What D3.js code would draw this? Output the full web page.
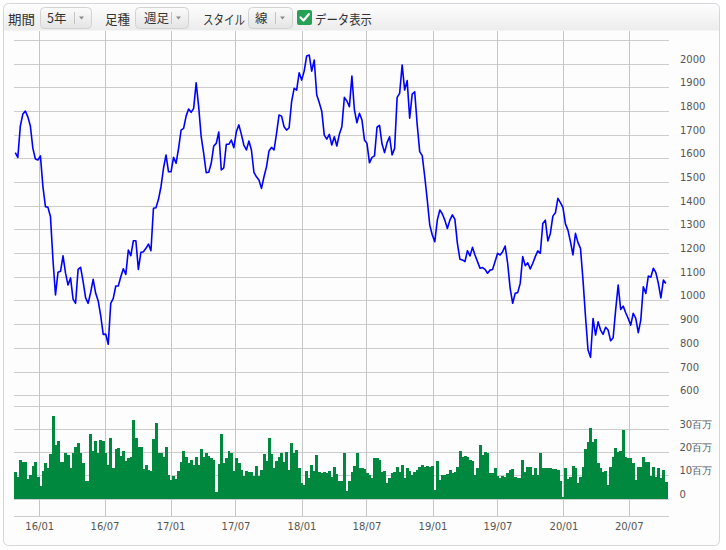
<!DOCTYPE html>
<html><head><meta charset="utf-8">
<script src="https://cdn.jsdelivr.net/npm/d3@7/dist/d3.min.js"></script>
<style>body{margin:0;background:#fff;} svg{display:block;}</style>
</head><body><svg id="chart" width="726" height="550"></svg>
<script>
// ---------- data ----------
const startDate = "2015-10-25"; // first weekly bar
const prices = [
1626,1606,1738,1789,1801,1777,1738,1644,1599,1595,
1612,1482,1398,1395,1356,1173,1025,1121,1125,1190,
1117,1067,1097,1008,990,1133,1142,1081,1013,990,
1036,1091,1032,1000,938,859,860,817,990,1011,
1063,1063,1102,1136,1112,1215,1191,1254,1254,1133,
1205,1208,1222,1240,1212,1391,1393,1429,1482,1560,
1616,1545,1545,1606,1581,1644,1721,1728,1780,1810,
1796,1813,1921,1820,1693,1623,1541,1543,1581,1654,
1665,1713,1553,1562,1661,1661,1679,1647,1714,1743,
1703,1658,1637,1675,
1637,1543,1524,1510,1475,1524,1566,1633,1648,1637,
1707,1785,1780,1735,1721,1731,1841,1897,1890,1963,
1932,1970,2034,2038,1970,2017,1869,1837,1801,1700,
1683,1703,1658,1693,1654,1703,1735,1859,1844,1820,
1949,1806,1752,1792,1764,1679,1665,1583,1606,1612,
1733,1741,1662,1626,1668,1693,1616,1644,1859,1876,
1996,1890,1930,1771,1873,1883,1743,1630,1613,1524,
1426,1320,1278,1250,1341,1384,1367,1341,1306,1341,
1363,1344,1243,1176,1173,1166,1212,1190,1226,1194,
1166,1138,1141,1133,1117,
1130,1133,1166,1201,1194,1208,1232,1159,1053,990,
1032,1035,1074,1187,1149,1161,1135,1159,1187,1211,
1201,1327,1341,1253,1285,1358,1372,1433,1415,1395,
1325,1299,1250,1194,1285,1246,1222,1088,933,793,
762,926,856,912,877,859,889,877,832,845,
962,1067,964,978,950,926,898,948,926,866,
919,1060,1032,1105,1100,1138,1119,1074,1013,1088,
1074
];
// weekly volume, millions of shares
const volumes = [
11.8,9.4,16.9,15.9,15.9,8.6,10.4,14.3,16.1,9.7,
5.7,12.1,15.7,13.6,19.3,35.7,23.3,25.0,16.1,16.1,
20,19,13.3,19.7,22.6,24,20,15.5,7.9,7.9,
27.9,20.7,25,19.7,25.5,25,19.7,14.7,26.2,
13.3,21.6,21.9,18.6,20.9,16.4,17.6,18,34,26.4,
22.6,22.6,12.9,14.7,12.6,12.1,25.9,32.6,19.7,19.7,
18.3,22.3,10.4,8.3,10.2,8.9,12.1,16.1,20.9,18,
15.5,16.9,14.9,18.3,14.9,21.6,18,20,18.6,17.9,
16.9,3.3,15.2,27.9,15.5,17.6,20.7,20,12.3,17.9,
15.5,12.6,10,12.1,11.5,11.8,10,14.3,10,12.6,
19.3,16.4,26.2,19.3,13.3,16.4,18.3,20,16.1,20.4,
12.6,24.3,19.7,21.1,13.6,6.9,6.2,12.1,9.3,14.9,
12.1,19,11.5,11.3,11.5,11.2,12.3,9.7,13.9,10.9,
7.7,7.7,20,3.7,7.9,11.8,14.2,20,
13.3,13.6,12.9,11.2,10.4,9.3,17.6,17.6,17,11.8,
12.1,6.8,9,11.2,11.8,14,11.8,14.7,9,13.3,
12.1,10.4,11.8,12.6,14,14.7,14,14.3,14,14.3,
3.9,16.4,8.3,10.4,10.4,11,12.6,11.4,11.8,14,
20.9,18,18.6,18.3,16.9,16.4,10.4,13.3,23.3,19,
20.4,19.7,11.2,11.4,13.3,10,9,10,9.4,11.4,
12.6,12.9,9.7,9.3,9.3,16.9,11.8,14,14,10.4,
13.3,10.4,19.7,13.3,13.3,13.6,13.3,13,12.9,12.6,
8,0.8,13.6,8.6,9.7,14.3,13.3,6.8,9.4,14,
21.4,24.7,30.5,24.7,25.7,15.5,13.3,11.8,12.1,6.1,
14,18,21.9,20.4,20.9,29.7,18,17.6,17.6,15.5,
8.3,14,14,18,16.1,16.1,10,14,9.7,13.3,
9,12.6,7.6
];
const priceTicks = [600,700,800,900,1000,1100,1200,1300,1400,1500,1600,1700,1800,1900,2000];
const priceGridTop = 2100;
const volumeTicks = [0,10,20,30];
const volumeTickLabels = ["0","10百万","20百万","30百万"];
const volumeGridTop = 40;
const dateTicks = ["2016-01-01","2016-07-01","2017-01-01","2017-07-01","2018-01-01","2018-07-01","2019-01-01","2019-07-01","2020-01-01","2020-07-01"];
const dateTickLabels = ["16/01","16/07","17/01","17/07","18/01","18/07","19/01","19/07","20/01","20/07"];
const toolbarLabels = ["期間","足種","スタイル"];
const toolbarButtons = ["5年","週足","線"];
const checkboxLabel = "データ表示";

// ---------- drawing ----------
const parse = d3.utcParse("%Y-%m-%d");
const t0 = parse(startDate);
const dates = prices.map((_, i) => d3.utcDay.offset(t0, 7 * i));
const svg = d3.select("#chart");
const defs = svg.append("defs");

const plotL = 14, plotR = 669.3;
const x = d3.scaleUtc().domain([parse("2016-01-01"), parse("2020-07-01")]).range([39.7, 629.3]);
const yP = d3.scaleLinear().domain([600, 2000]).range([395.7, 64]);
const yV = d3.scaleLinear().domain([0, 40]).range([499.3, 406]);

// container
const tg = defs.append("linearGradient").attr("id","tb").attr("x1",0).attr("x2",0).attr("y1",0).attr("y2",1);
tg.append("stop").attr("offset","0%").attr("stop-color","#fefefe");
tg.append("stop").attr("offset","100%").attr("stop-color","#ececec");
const bg = defs.append("linearGradient").attr("id","btn").attr("x1",0).attr("x2",0).attr("y1",0).attr("y2",1);
bg.append("stop").attr("offset","0%").attr("stop-color","#fbfbfb");
bg.append("stop").attr("offset","100%").attr("stop-color","#e4e4e4");
defs.append("clipPath").attr("id","box").append("rect")
  .attr("x",3.5).attr("y",3.5).attr("width",716).attr("height",542).attr("rx",5);

svg.append("rect").attr("x",3.5).attr("y",3.5).attr("width",716).attr("height",542).attr("rx",5)
  .attr("fill","#fdfdfd");
svg.append("rect").attr("clip-path","url(#box)").attr("x",3).attr("y",3).attr("width",717).attr("height",27.5)
  .attr("fill","url(#tb)");
svg.append("rect").attr("x",3.5).attr("y",3.5).attr("width",716).attr("height",542).attr("rx",5)
  .attr("fill","none").attr("stroke","#d3d6da");

// toolbar
const jp = "'Noto Sans CJK JP','Noto Sans',sans-serif";
const tb = svg.append("g").attr("font-family", jp).attr("fill","#333");
const labelX = [8, 105, 203], labelLen = [27, 25, 42];
toolbarLabels.forEach((t,i) => {
  tb.append("text").attr("x",labelX[i]).attr("y",24).attr("font-size","13px")
    .attr("textLength",labelLen[i]).attr("lengthAdjust","spacingAndGlyphs").text(t);
});
const btnX = [40, 135, 248], btnW = [51, 53, 44], btnTx = [47, 144, 255];
toolbarButtons.forEach((t,i) => {
  const g = svg.append("g");
  g.append("rect").attr("x",btnX[i]+0.5).attr("y",7.5).attr("width",btnW[i]).attr("height",21).attr("rx",4)
    .attr("fill","url(#btn)").attr("stroke","#d2d2d2");
  g.append("text").attr("x",btnTx[i]).attr("y",23).attr("font-family",jp).attr("font-size","12.5px")
    .attr("fill","#333").text(t);
  const sx = btnX[i] + btnW[i] - 17;
  g.append("line").attr("x1",sx+0.5).attr("x2",sx+0.5).attr("y1",12).attr("y2",24).attr("stroke","#c4c4c4");
  const tx = btnX[i] + btnW[i] - 9.5;
  g.append("path").attr("d",`M${tx-2.5},16.5L${tx+2.5},16.5L${tx},19.5Z`).attr("fill","#8a8a8a");
});
svg.append("rect").attr("x",297).attr("y",10).attr("width",15).attr("height",15).attr("rx",2).attr("fill","#27a156");
svg.append("path").attr("d","M300.5,17.5L303.5,20.5L308.8,14.2").attr("fill","none").attr("stroke","#fff")
  .attr("stroke-width",2.2).attr("stroke-linecap","round").attr("stroke-linejoin","round");
svg.append("text").attr("x",315).attr("y",24).attr("font-family",jp).attr("font-size","13px").attr("fill","#333")
  .attr("textLength",57).attr("lengthAdjust","spacingAndGlyphs").text(checkboxLabel);

// grid
const grid = svg.append("g").attr("stroke","#cdcdcd").attr("stroke-width",1).attr("shape-rendering","crispEdges");
[...priceTicks, priceGridTop].forEach(p => {
  grid.append("line").attr("x1",plotL).attr("x2",plotR).attr("y1",yP(p)).attr("y2",yP(p));
});
[...volumeTicks, volumeGridTop].forEach(v => {
  grid.append("line").attr("x1",plotL).attr("x2",plotR).attr("y1",yV(v)).attr("y2",yV(v));
});
grid.append("line").attr("x1",plotL).attr("x2",plotR).attr("y1",516).attr("y2",516);
dateTicks.forEach(d => {
  const xx = x(parse(d));
  grid.append("line").attr("x1",xx).attr("x2",xx).attr("y1",31).attr("y2",516).attr("stroke","#c6c6c6");
});

// volume bars
svg.append("g").attr("fill","#00893e").attr("shape-rendering","crispEdges")
  .selectAll("rect").data(volumes).join("rect")
  .attr("x", (v,i) => x(d3.utcHour.offset(dates[i], -84)))
  .attr("width", (v,i) => x(d3.utcHour.offset(dates[i], 84)) - x(d3.utcHour.offset(dates[i], -84)) + 0.4)
  .attr("y", v => yV(v))
  .attr("height", v => yV(0) - yV(v));

// price line
const line = d3.line().x((p,i) => x(dates[i])).y(p => yP(p));
svg.append("path").datum(prices).attr("d", line).attr("fill","none")
  .attr("stroke","#0000ff").attr("stroke-width",1.6).attr("stroke-linejoin","round");

// labels
const ax = svg.append("g").attr("font-family","'DejaVu Sans',Verdana,sans-serif").attr("font-size","10px").attr("fill","#555");
priceTicks.forEach(p => {
  ax.append("text").attr("x",680).attr("y",yP(p)-1.5).text(p);
});
volumeTicks.forEach((v,i) => {
  ax.append("text").attr("x",679.5).attr("y",yV(v)-1.5).text(volumeTickLabels[i]);
});
dateTicks.forEach((d,i) => {
  ax.append("text").attr("x",x(parse(d))).attr("y",530).attr("text-anchor","middle").text(dateTickLabels[i]);
});
</script></body></html>
